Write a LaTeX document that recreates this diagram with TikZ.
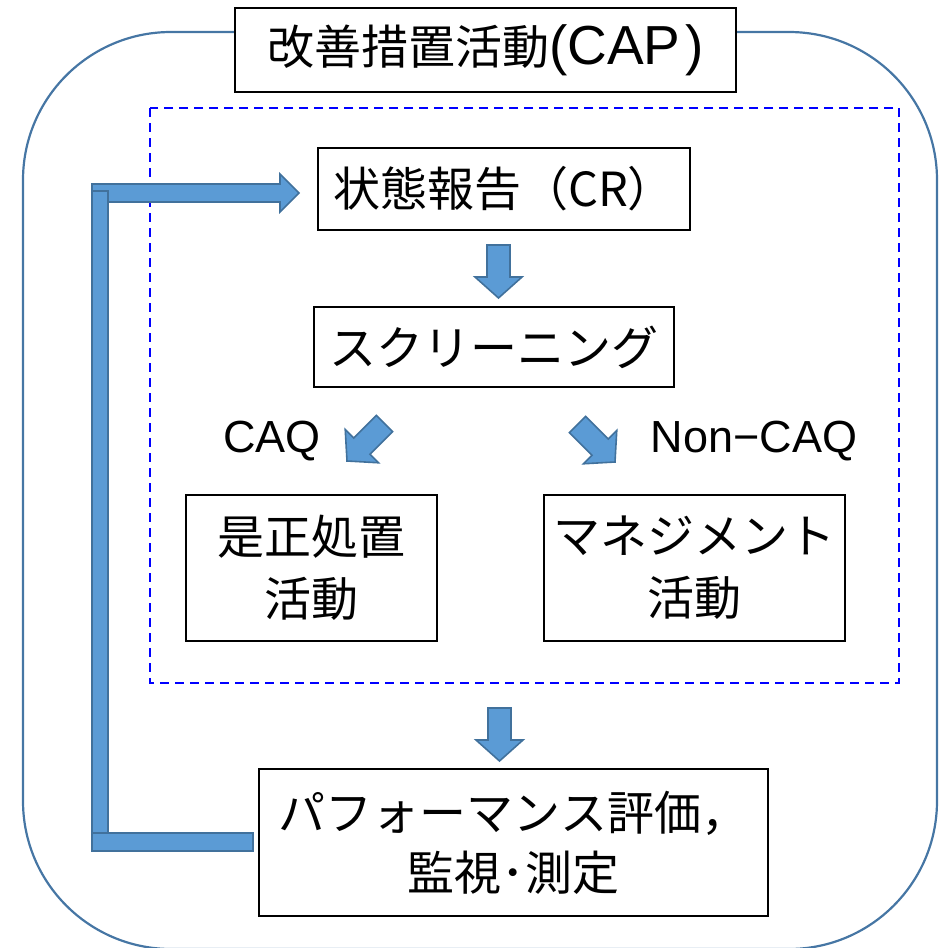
\documentclass[tikz,border=0pt]{standalone}
\usepackage{fontspec}
\newfontfamily\jp{Noto Sans CJK JP}
\newfontfamily\lat{Liberation Sans}
\definecolor{arrowfill}{HTML}{5B9BD5}
\definecolor{arrowdraw}{HTML}{41719C}
\definecolor{outerline}{HTML}{4676A4}
\begin{document}
\begin{tikzpicture}[x=1pt,y=-1pt,
  box/.style={draw=black, line width=2pt, fill=white, inner sep=0pt, align=center,
    font=\jp\fontsize{47}{62}\selectfont},
  lbl/.style={inner sep=0pt, font=\lat\fontsize{45}{50}\selectfont},
  blockarrow/.style={fill=arrowfill, draw=arrowdraw, line width=1.6pt, line join=miter},
  blk/.pic={\filldraw[blockarrow] (-11.5,-53) -- (11.5,-53) -- (11.5,-21) -- (23.5,-21) -- (0,0) -- (-23.5,-21) -- (-11.5,-21) -- cycle;}
]
\useasboundingbox (0,0) rectangle (943,948);
% outer rounded frame
\draw[outerline, line width=2.2pt, rounded corners=148pt] (23,32) rectangle (937,949);
% dashed region
\draw[blue, line width=2pt, dash pattern=on 9pt off 6pt] (150,108) rectangle (899,683);
% loop arrow
\filldraw[blockarrow] (92,184) -- (280,184) -- (280,174) -- (299,193) -- (280,212) -- (280,202) -- (92,202) -- cycle;
\filldraw[blockarrow] (92,191) rectangle (108,850);
\filldraw[blockarrow] (92,833) rectangle (253,851);
% nodes
\node[box, minimum width=501pt, minimum height=84pt] (title) at (485.5,50) {改善措置活動{\lat\fontsize{55}{60}\selectfont (CAP\kern5pt)}};
\node[box, minimum width=372pt, minimum height=82pt] (cr) at (504,189) {状態報告（CR）};
\node[box, minimum width=360pt, minimum height=80pt] (scr) at (494,347) {スクリーニング};
\node[box, minimum width=251pt, minimum height=146pt] (ca) at (311.5,568) {是正処置\\活動};
\node[box, minimum width=301pt, minimum height=146pt] (mg) at (694.5,568) {マネジメント\\活動};
\node[box, minimum width=509pt, minimum height=147pt, font=\jp\fontsize{47}{60}\selectfont] (pe) at (513.5,842.5) {パフォーマンス評価，\\監視･測定};
\node[lbl] (caq) at (272,441) {CAQ};
\node[lbl] (ncaq) at (754,441) {Non−CAQ};
% block arrows
\pic at (498.5,298) {blk};
\pic at (499.5,761) {blk};
\pic[rotate=-45] at (347,461) {blk};
\pic[rotate=45] at (615,462) {blk};
\end{tikzpicture}
\end{document}
